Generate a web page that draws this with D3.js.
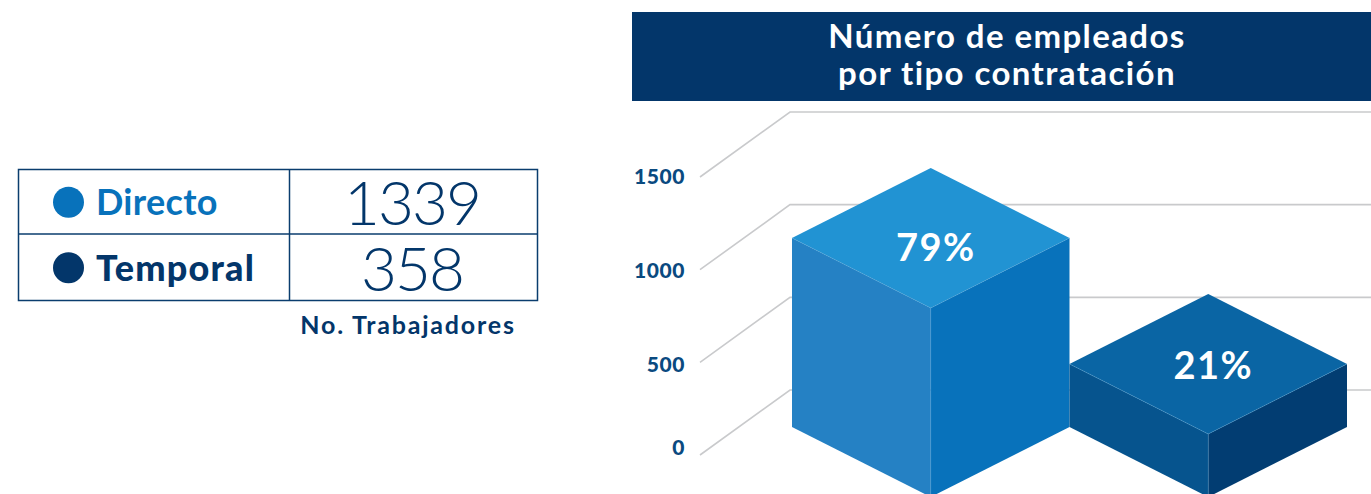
<!DOCTYPE html>
<html><head><meta charset="utf-8">
<script src="https://cdn.jsdelivr.net/npm/d3@7"></script>
<style>html,body{margin:0;padding:0;background:#fff;overflow:hidden}svg{display:block}text{font-family:Lato,sans-serif}</style>
</head><body><svg id="c" width="1371" height="494"></svg>
<script>
const categories = ["Directo", "Temporal"];
const values = [1339, 358];
const percents = ["79%", "21%"];
const yTicks = [0, 500, 1000, 1500];
const titleLines = ["Número de empleados", "por tipo contratación"];
const tableCaption = "No. Trabajadores";
const topColors = ["#2193d3", "#0a65a4"];
const leftColors = ["#2581c4", "#06548e"];
const rightColors = ["#0872bb", "#023d72"];
const legendColors = ["#0872bb", "#03366a"];
const navy = "#03366a";

const svg = d3.select("#c");

// ---- table
const rowY = d3.scaleBand().domain(categories).range([169.5, 300.5]);
const tbl = svg.append("g");
tbl.append("rect").attr("x", 18.5).attr("y", 169.5).attr("width", 519).attr("height", 131)
  .attr("fill", "none").attr("stroke", "#0a3d6e").attr("stroke-width", 1.5);
tbl.append("line").attr("x1", 289.5).attr("x2", 289.5).attr("y1", 169.5).attr("y2", 300.5).attr("stroke", "#0a3d6e").attr("stroke-width", 1.5);
tbl.append("line").attr("x1", 18.5).attr("x2", 537.5).attr("y1", 234).attr("y2", 234).attr("stroke", "#0a3d6e").attr("stroke-width", 1.5);
const rows = tbl.selectAll("g.row").data(categories).join("g")
  .attr("transform", d => `translate(0,${rowY(d) + rowY.bandwidth() / 2})`);
rows.append("circle").attr("cx", 68.5).attr("cy", 0).attr("r", 15.5).attr("fill", (d, i) => legendColors[i]);
rows.append("text").attr("x", 96).attr("y", 13).attr("font-size", 36)
  .attr("font-weight", (d, i) => i ? 900 : 700).style("letter-spacing", (d, i) => i ? "1.2px" : "0.3px")
  .attr("fill", (d, i) => legendColors[i]).text(d => d);
rows.append("text").attr("x", 412).attr("y", 23).attr("text-anchor", "middle")
  .attr("font-size", 62).attr("font-weight", 300).attr("fill", navy)
  .style("letter-spacing", "-2px").text((d, i) => values[i]);
tbl.append("text").attr("x", 408).attr("y", 334).attr("text-anchor", "middle")
  .attr("font-size", 25).attr("font-weight", 700).attr("fill", navy).style("letter-spacing", "1.8px").text(tableCaption);

// ---- title
svg.append("rect").attr("x", 632).attr("y", 12).attr("width", 739).attr("height", 89).attr("fill", navy);
svg.append("text").attr("x", 1007).attr("y", 0).attr("text-anchor", "middle").attr("fill", "#fff")
  .attr("font-size", 33).attr("font-weight", 700).style("letter-spacing", "1.4px")
  .selectAll("tspan").data(titleLines).join("tspan")
  .attr("x", 1007).attr("y", (d, i) => 48 + i * 37).text(d => d);

// ---- axis + grid
const depth = { x: 90, y: -65 };
const frontX = 700;
const y = d3.scaleLinear().domain([0, 1500]).range([455, 177]);
const grid = svg.append("g");
grid.selectAll("path").data(yTicks).join("path")
  .attr("fill", "none").attr("stroke", "#c9cacc").attr("stroke-width", 1.6)
  .attr("d", d => d3.line()([[frontX, y(d)], [frontX + depth.x, y(d) + depth.y], [1371, y(d) + depth.y]]));
const axis = d3.axisLeft(y).tickValues(yTicks).tickSize(0).tickPadding(0).tickFormat(d3.format("d"));
const axG = svg.append("g").attr("transform", "translate(685,0)").call(axis);
axG.select(".domain").remove();
axG.selectAll("text").attr("font-size", 21).attr("font-weight", 900).attr("fill", "#0a4a80")
  .style("font-family", "Lato,sans-serif").style("letter-spacing", "0.6px")
  .attr("dy", d => d === 0 ? "-0.02em" : (d === 1500 ? "0.3em" : (d === 1000 ? "0.36em" : "0.45em")));

// ---- cubes
const x = d3.scaleBand().domain(categories).range([792, 1347]);
const baseY = 427;
const halfH = 70;
// drawn bar heights are not proportional in the source picture
const h = d3.scaleLinear().domain([0, 358, 1339]).range([0, 63, 189]);
const line = d3.line();
const cubes = svg.selectAll("g.cube").data(categories).join("g");
cubes.each(function (d, i) {
  const g = d3.select(this);
  const l = x(d), w = x.bandwidth(), c = l + w / 2, r = l + w;
  const t = baseY - h(values[i]);
  g.append("path").attr("fill", leftColors[i]).attr("d", line([[l, t], [c, t + halfH], [c, baseY + halfH], [l, baseY]]) + "Z");
  g.append("path").attr("fill", rightColors[i]).attr("d", line([[c, t + halfH], [r, t], [r, baseY], [c, baseY + halfH]]) + "Z");
  g.append("path").attr("fill", topColors[i]).attr("d", line([[l, t], [c, t - halfH], [r, t], [c, t + halfH]]) + "Z");
  g.append("path").attr("fill", "none").attr("stroke", "#5aa6d8").attr("stroke-opacity", 0.5).attr("stroke-width", 0.7)
    .attr("d", line([[l, t], [c, t + halfH], [r, t]]));
  g.append("path").attr("fill", "none").attr("stroke", "#5aa6d8").attr("stroke-opacity", 0.5).attr("stroke-width", 0.7)
    .attr("d", line([[c, t + halfH], [c, baseY + halfH]]));
  g.append("text").attr("x", c + 5).attr("y", t + (i ? 15 : 23)).attr("text-anchor", "middle")
    .attr("font-size", 38).attr("font-weight", 700).attr("fill", "#fff").style("letter-spacing", "1.5px").text(percents[i]);
});
</script></body></html>
